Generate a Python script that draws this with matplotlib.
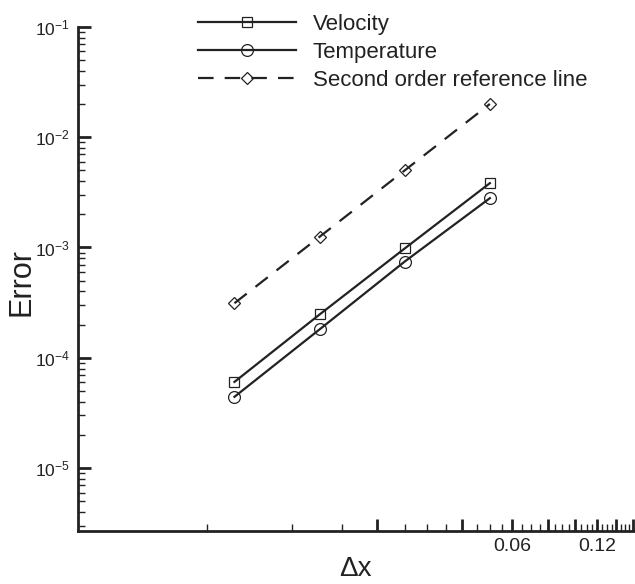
import numpy as np
import matplotlib
matplotlib.use("Agg")
from matplotlib import pyplot as plt
from matplotlib.ticker import FixedLocator, NullFormatter, FixedFormatter, LogLocator

plt.rcParams['font.family'] = ['Liberation Sans', 'DejaVu Sans']
plt.rcParams['mathtext.fontset'] = 'custom'
plt.rcParams['mathtext.rm'] = 'Liberation Sans'
plt.rcParams['mathtext.it'] = 'Liberation Sans'

# grid spacing
dx = [0.00625, 0.0125, 0.025, 0.05]
err_velocity = [6.05e-5, 2.47e-4, 9.8e-4, 3.83e-3]
err_temperature = [4.43e-5, 1.81e-4, 7.46e-4, 2.8e-3]
err_reference = [3.125e-4, 1.25e-3, 5.0e-3, 2.0e-2]

labels = ['Velocity', 'Temperature', 'Second order reference line']

x_major = [0.02, 0.04, 0.06, 0.08, 0.10, 0.12, 0.14, 0.16]
x_major_labels = ['', '', '0.06', '', '', '0.12', '', '']
x_minor = [0.005, 0.01, 0.015, 0.025, 0.03, 0.035, 0.045, 0.05, 0.055,
           0.065, 0.07, 0.075, 0.085, 0.09, 0.095, 0.105, 0.11, 0.115,
           0.125, 0.13, 0.135, 0.145, 0.15, 0.155]

ink = '#222222'

fig = plt.figure(figsize=(6.35, 5.84), dpi=100)
ax = fig.add_axes([0.123, 0.091, 0.877, 0.863])

ax.plot(dx, err_velocity, '-', color=ink, lw=1.6, marker='s', ms=6.5,
        mfc='none', mec=ink, mew=0.9, label=labels[0])
ax.plot(dx, err_temperature, '-', color=ink, lw=1.6, marker='o', ms=8.5,
        mfc='none', mec=ink, mew=0.9, label=labels[1])
ax.plot(dx, err_reference, color=ink, lw=1.6, dashes=(7, 5), marker='D', ms=6,
        mfc='none', mec=ink, mew=0.9, label=labels[2])

ax.set_xscale('log')
ax.set_yscale('log')
ax.set_xlim(0.00175, 0.163)
ax.set_ylim(2.7e-6, 1e-1)

ax.xaxis.set_major_locator(FixedLocator(x_major))
ax.xaxis.set_major_formatter(FixedFormatter(x_major_labels))
ax.xaxis.set_minor_locator(FixedLocator(x_minor))
ax.xaxis.set_minor_formatter(NullFormatter())

ax.yaxis.set_major_locator(LogLocator(base=10, numticks=10))
ax.yaxis.set_minor_locator(LogLocator(base=10, subs=np.arange(2, 10), numticks=10))
ax.yaxis.set_minor_formatter(NullFormatter())

for s in ['top', 'right']:
    ax.spines[s].set_visible(False)
for s in ['left', 'bottom']:
    ax.spines[s].set_linewidth(2)
    ax.spines[s].set_color(ink)

ax.tick_params(which='major', direction='in', length=9, width=2, color=ink,
               labelcolor=ink, pad=6)
ax.tick_params(axis='y', which='major', labelsize=12.5)
ax.tick_params(axis='x', which='major', labelsize=14, pad=5)
ax.tick_params(which='minor', direction='in', length=5, width=1, color=ink)

ax.set_xlabel('\u0394x', fontsize=20, color=ink)
ax.xaxis.set_label_coords(0.497, -0.05)
ax.set_ylabel('Error', fontsize=22, color=ink)
ax.yaxis.set_label_coords(-0.074, 0.493)

leg = ax.legend(loc='upper left', bbox_to_anchor=(0.18, 1.066), frameon=False,
                fontsize=16, handlelength=4.4, handletextpad=0.75,
                labelspacing=0.33, labelcolor=ink)

fig.savefig('out.png', dpi=100)
